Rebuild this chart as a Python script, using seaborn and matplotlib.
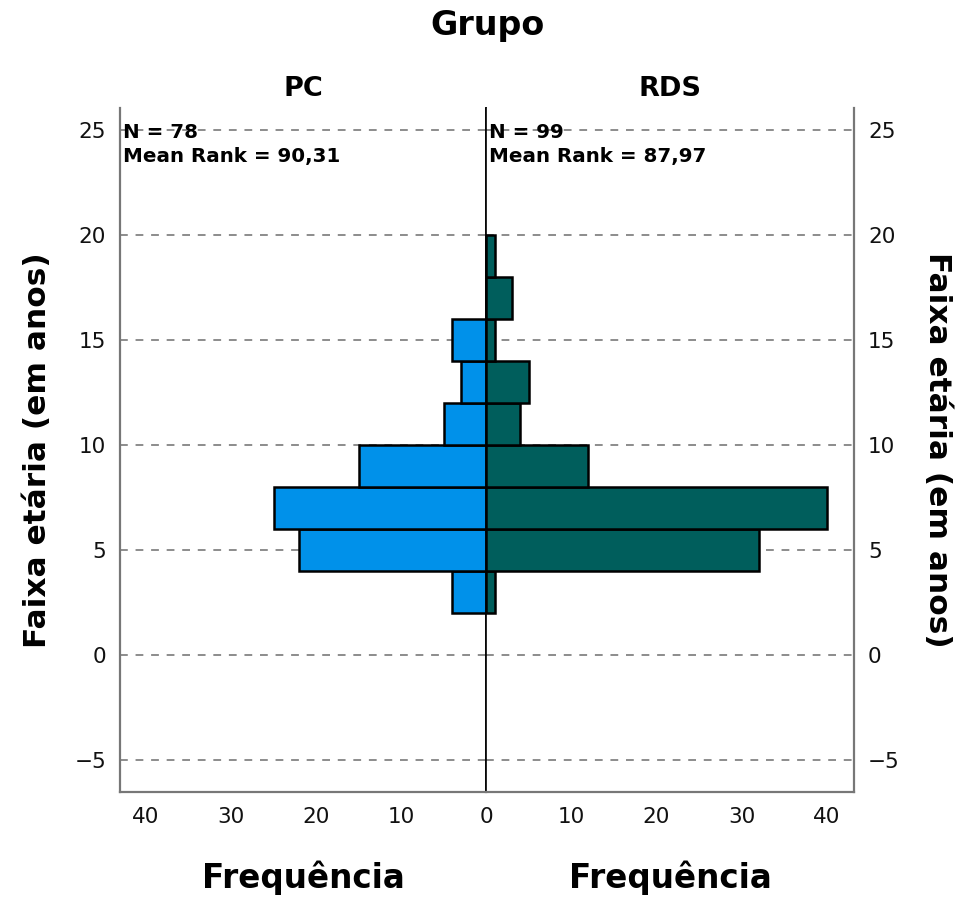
import numpy as np
import pandas as pd
import seaborn as sns
import matplotlib.pyplot as plt
from matplotlib.ticker import FuncFormatter

# age bins (years), lower edges, width 2
bin_lower = [2, 4, 6, 8, 10, 12, 14, 16, 18]
bin_width = 2
pc_freq = [4, 22, 25, 15, 5, 3, 4, 0, 0]
rds_freq = [1, 32, 40, 12, 4, 5, 1, 3, 1]

groups = ['PC', 'RDS']
n_labels = ['N = 78', 'N = 99']
rank_labels = ['Mean Rank = 90,31', 'Mean Rank = 87,97']
colors = ['#0091EA', '#005E5C']

y_ticks = [-5, 0, 5, 10, 15, 20, 25]
x_ticks = [0, 10, 20, 30, 40]

df = pd.DataFrame({
    'faixa': np.array(bin_lower, dtype=float) + bin_width / 2,
    'PC': pc_freq,
    'RDS': rds_freq,
})
bin_range = (bin_lower[0], bin_lower[-1] + bin_width)

sns.set_style('white')
plt.rcParams['font.family'] = ['DejaVu Sans']
plt.rcParams['text.color'] = 'black'
plt.rcParams['axes.labelcolor'] = 'black'

fig = plt.figure(figsize=(9.68, 9.01), dpi=100)
ax_l = fig.add_axes([120 / 968, 1 - 792 / 901, 366 / 968, 684 / 901])
ax_r = fig.add_axes([486 / 968, 1 - 792 / 901, 368 / 968, 684 / 901])

grey = '#777777'
for ax, grp, col, nl, rl in zip([ax_l, ax_r], groups, colors, n_labels, rank_labels):
    sns.histplot(data=df, y='faixa', weights=grp, binwidth=bin_width,
                 binrange=bin_range, ax=ax, color=col, alpha=1,
                 edgecolor='black', linewidth=1.8, zorder=3)
    ax.set_ylim(-6.52, 26.05)
    ax.set_yticks(y_ticks)
    ax.set_xticks(x_ticks)
    ax.yaxis.grid(True, linestyle=(0, (4, 4)), color='#8c8c8c', lw=1.4,
                  zorder=0)
    ax.xaxis.grid(False)
    ax.set_axisbelow(True)
    ax.tick_params(axis='both', length=0, labelsize=15.5, colors='#111111')
    ax.tick_params(axis='x', pad=11)
    ax.set_title(grp, fontsize=19.5, fontweight='bold', pad=9)
    ax.set_xlabel('Frequência', fontsize=23.5, fontweight='bold', labelpad=24)
    ax.text(0.008, 0.978, nl + '\n' + rl, transform=ax.transAxes,
            ha='left', va='top', fontsize=14.3, fontweight='bold',
            linespacing=1.3, zorder=5)
    ax.spines['top'].set_visible(False)
    for s in ['left', 'right', 'bottom']:
        ax.spines[s].set_color(grey)
        ax.spines[s].set_linewidth(1.6)

ax_l.set_xlim(43.06, 0)
ax_r.set_xlim(0, 43.2)
# the shared zero is labelled only once, under the centre line
ax_r.xaxis.set_major_formatter(FuncFormatter(lambda v, p: '' if v == 0 else f'{v:g}'))

ax_l.spines['right'].set_color('black')
ax_l.spines['right'].set_linewidth(1.2)
ax_r.spines['left'].set_color('black')
ax_r.spines['left'].set_linewidth(1.2)

ax_l.tick_params(axis='y', pad=10)
ax_l.set_ylabel('Faixa etária (em anos)', fontsize=22.5, fontweight='bold',
                labelpad=16)
ax_r.yaxis.tick_right()
ax_r.yaxis.set_label_position('right')
ax_r.tick_params(axis='y', pad=10, labelright=True, labelleft=False)
ax_r.set_ylabel('Faixa etária (em anos)', fontsize=22.5, fontweight='bold',
                rotation=270, labelpad=38)

fig.text(488 / 968, 1 - 25 / 901, 'Grupo', ha='center', va='center',
         fontsize=24, fontweight='bold')

fig.savefig('out.png', dpi=100)
